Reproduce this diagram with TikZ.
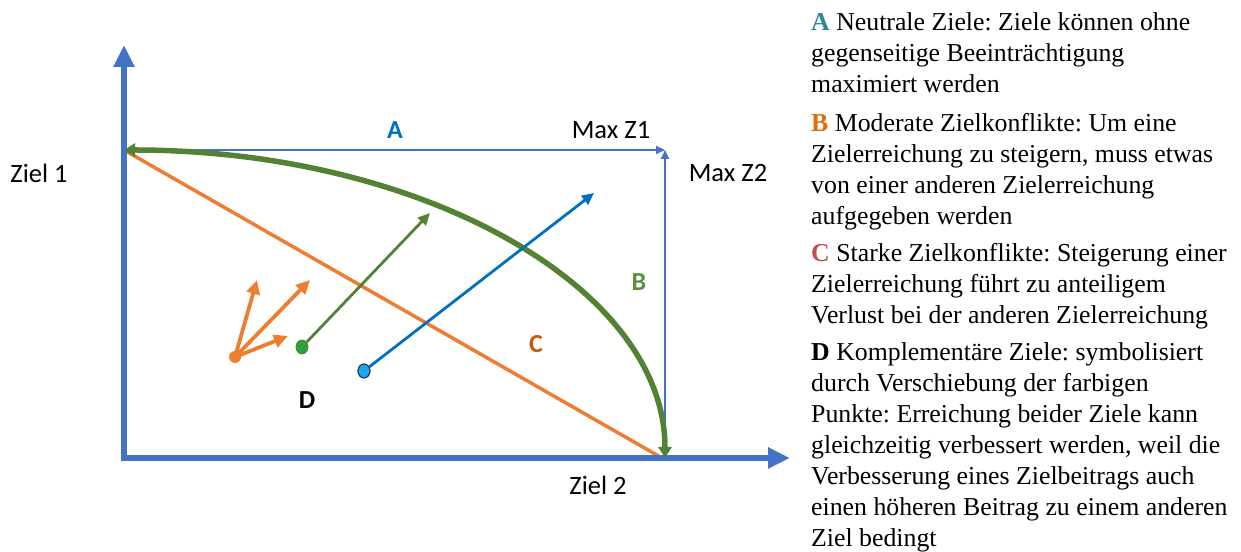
\documentclass[tikz,border=0pt]{standalone}
\usepackage{fontspec}
\setmainfont{Liberation Serif}
\newfontfamily\carlitofont{Carlito}
\usetikzlibrary{arrows.meta,shapes.geometric}
\definecolor{axblue}{HTML}{4472C4}
\definecolor{lblue}{HTML}{0070C0}
\definecolor{dotblue}{HTML}{1CA8F0}
\definecolor{navy}{HTML}{1F3864}
\definecolor{orng}{HTML}{ED7D31}
\definecolor{grn}{HTML}{548235}
\definecolor{dotgrn}{HTML}{2CA03C}
\definecolor{txA}{HTML}{31849B}
\definecolor{txB}{HTML}{E36C09}
\definecolor{txC}{HTML}{C0504D}
\definecolor{lblB}{HTML}{5E8F3A}
\definecolor{lblC}{HTML}{C55A11}
\tikzset{
  axis/.style={draw=axblue, line width=6pt, -{Triangle[length=22pt,width=20pt]}},
  thinax/.style={draw=axblue, line width=2pt, -{Triangle[length=9pt,width=8pt]}},
  lbl/.style={font=\carlitofont\fontsize{26.5}{30}\selectfont, inner sep=0pt},
  blbl/.style={font=\carlitofont\bfseries\fontsize{26}{30}\selectfont, inner sep=0pt},
  dot/.style={ellipse, inner sep=0pt, minimum width=12pt, minimum height=14pt},
}
\begin{document}
\begin{tikzpicture}[x=1pt,y=1pt]
\useasboundingbox (0,0) rectangle (1241,551);
% coordinates
\coordinate (O) at (124,93);
\coordinate (Ostart) at (121,93);
\coordinate (Ytop) at (124,506);
\coordinate (Xend) at (790,93);
\coordinate (TL) at (124,401);
\coordinate (TR) at (665,401);
\coordinate (BR) at (665,93);
% thin blue A and B
\draw[thinax] (TL) -- (TR);
\draw[thinax] (BR) -- (TR);
% orange line C
\draw[orng, line width=3.5pt] (TL) -- (662,93);
% axes
\draw[axis] (O) -- (Ytop);
\draw[axis] (Ostart) -- (Xend);
% green curve
\draw[grn, line width=5.5pt, {Triangle[length=11pt,width=13pt]}-{Triangle[length=11pt,width=13pt]}]
  (TL) arc[start angle=90, end angle=0, x radius=541pt, y radius=308pt];
% D arrows
\node[dot, fill=orng, minimum width=12pt, minimum height=12pt] (po) at (235,194) {};
\coordinate (o1) at (257,271);
\coordinate (o2) at (310,271);
\coordinate (o3) at (288,215);
\foreach \t in {o1,o2,o3}
  \draw[orng, line width=3.8pt, -{Triangle[length=14pt,width=13pt]}] (po.center) -- (\t);
\node[dot, fill=dotgrn, draw=grn, line width=0.8pt] (pg) at (302,204) {};
\coordinate (g1) at (430,338);
\draw[grn, line width=2.8pt, -{Triangle[length=12pt,width=11pt]}] (pg) -- (g1);
\node[dot, fill=dotblue, draw=navy, line width=1.2pt] (pb) at (364,180) {};
\coordinate (b1) at (594,358);
\draw[lblue, line width=2.8pt, -{Triangle[length=12pt,width=11pt]}] (pb) -- (b1);
% labels
\node[blbl, text=lblue] (la) at (395,421) {A};
\node[lbl] (mz1) at (611,421) {Max Z1};
\node[lbl] (mz2) at (728,378) {Max Z2};
\node[lbl] (z1) at (39,378) {Ziel 1};
\node[lbl] (z2) at (598,66) {Ziel 2};
\node[blbl, text=lblB] (lb) at (639,269) {B};
\node[blbl, text=lblC] (lc) at (536,207) {C};
\node[blbl] (ld) at (307,151) {D};
% legend
\node[anchor=north west, align=left, inner sep=0pt, font=\frenchspacing\fontsize{25.8}{31}\selectfont] (leg) at (811,539) {%
\textbf{\color{txA}A} Neutrale Ziele: Ziele können ohne\\
gegenseitige Beeinträchtigung\\
maximiert werden\\[8pt]
\textbf{\color{txB}B} Moderate Zielkonflikte: Um eine\\
Zielerreichung zu steigern, muss etwas\\
von einer anderen Zielerreichung\\
aufgegeben werden\\[6pt]
\textbf{\color{txC}C} Starke Zielkonflikte: Steigerung einer\\
Zielerreichung führt zu anteiligem\\
Verlust bei der anderen Zielerreichung\\[6pt]
\textbf{D} Komplementäre Ziele: symbolisiert\\
durch Verschiebung der farbigen\\
Punkte: Erreichung beider Ziele kann\\
gleichzeitig verbessert werden, weil die\\
Verbesserung eines Zielbeitrags auch\\
einen höheren Beitrag zu einem anderen\\
Ziel bedingt};
\end{tikzpicture}
\end{document}
